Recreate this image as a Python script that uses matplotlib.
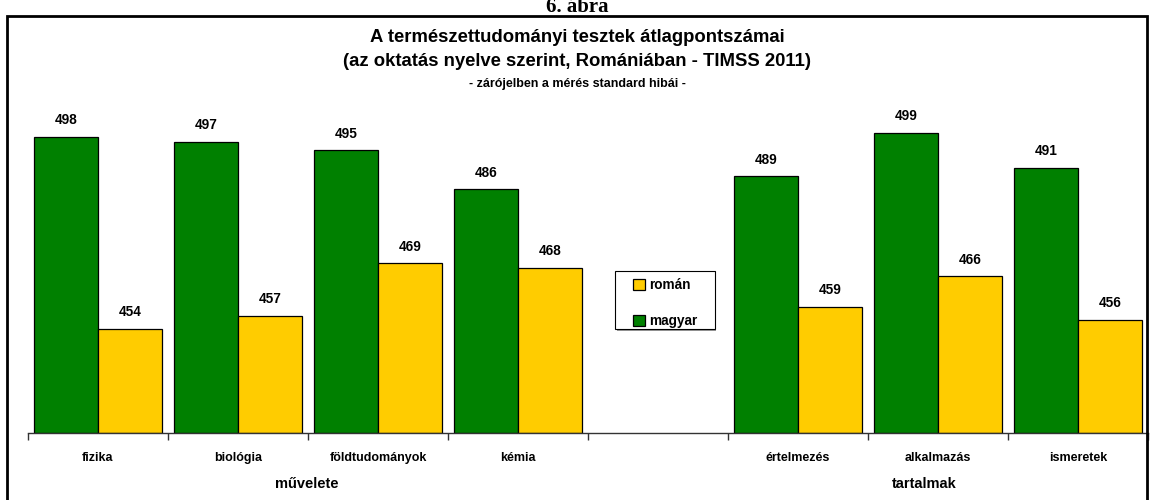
import matplotlib
matplotlib.use("Agg")
import matplotlib.pyplot as plt
from matplotlib.patches import Rectangle
import numpy as np

categories = ['fizika', 'biológia', 'földtudományok', 'kémia', '',
              'értelmezés', 'alkalmazás', 'ismeretek']
magyar = [498, 497, 495, 486, None, 489, 499, 491]
roman = [454, 457, 469, 468, None, 459, 466, 456]
groups = ['művelete', 'tartalmak']

GREEN = '#008000'
YELLOW = '#FFCC00'

plt.rcParams['font.family'] = ['Liberation Sans', 'DejaVu Sans']

W, H = 1153, 500
fig = plt.figure(figsize=(W / 100, H / 100), dpi=100)

def fx(px):
    return px / W

def fy(py):
    return 1 - py / H

ax = fig.add_axes([fx(28), fy(433), fx(1148) - fx(28), fy(41.5) - fy(433)])
ymin, ymax = 430, 520
ax.set_ylim(ymin, ymax)
ax.set_xlim(0, len(categories))

bw = 0.4536
for i, (m, r) in enumerate(zip(magyar, roman)):
    c = i + 0.5
    if m is not None:
        ax.bar(c - bw / 2, m - ymin, bottom=ymin, width=bw, color=GREEN,
               edgecolor='black', linewidth=0.9, label='magyar' if i == 0 else None)
        ax.annotate(str(m), (c - bw / 2, m), xytext=(0, 7), textcoords='offset points',
                    ha='center', va='bottom', fontsize=9.8, fontweight='bold')
    if r is not None:
        ax.bar(c + bw / 2, r - ymin, bottom=ymin, width=bw, color=YELLOW,
               edgecolor='black', linewidth=0.9, label='román' if i == 0 else None)
        ax.annotate(str(r), (c + bw / 2, r), xytext=(0, 7), textcoords='offset points',
                    ha='center', va='bottom', fontsize=9.8, fontweight='bold')

for s in ['top', 'right', 'left']:
    ax.spines[s].set_visible(False)
ax.spines['bottom'].set_color('#333333')
ax.spines['bottom'].set_linewidth(1.0)
ax.set_yticks([])
ax.set_xticks(np.arange(len(categories) + 1))
ax.set_xticklabels([])
ax.tick_params(axis='x', which='major', length=5, width=1, color='#333333', direction='out')
ax.set_xticks(np.arange(len(categories)) + 0.5, minor=True)
ax.set_xticklabels(categories, minor=True, fontsize=9, fontweight='bold')
ax.tick_params(axis='x', which='minor', length=0, pad=14)

# group labels
fig.text(fx(307), fy(484), groups[0], ha='center', va='center', fontsize=10.5, fontweight='bold')
fig.text(fx(924), fy(484), groups[1], ha='center', va='center', fontsize=10.5, fontweight='bold')

# legend (frame drawn separately)
handles, labels = ax.get_legend_handles_labels()
order = [labels.index('román'), labels.index('magyar')]
leg = ax.legend([handles[k] for k in order], [labels[k] for k in order],
                loc='center', bbox_to_anchor=(fx(665), fy(303)),
                bbox_transform=fig.transFigure,
                frameon=False,
                prop={'weight': 'bold', 'size': 9.8}, handlelength=0.85, handleheight=0.85,
                handletextpad=0.3, labelspacing=1.6, borderpad=0.2, borderaxespad=0)
fig.patches.append(Rectangle((fx(617), fy(331)), fx(716.5) - fx(617), fy(271) - fy(331),
                             transform=fig.transFigure, facecolor='#999999',
                             edgecolor='none', zorder=1))
fig.patches.append(Rectangle((fx(615), fy(329)), fx(715) - fx(615), fy(271) - fy(329),
                             transform=fig.transFigure, facecolor='white',
                             edgecolor='black', linewidth=0.8, zorder=2))
ax.set_zorder(3)
ax.patch.set_alpha(0)

# titles
fig.text(fx(577), fy(37), 'A természettudományi tesztek átlagpontszámai',
         ha='center', va='center', fontsize=13.3, fontweight='bold')
fig.text(fx(577), fy(61), '(az oktatás nyelve szerint, Romániában - TIMSS 2011)',
         ha='center', va='center', fontsize=13.3, fontweight='bold')
fig.text(fx(577), fy(84), '- zárójelben a mérés standard hibái -',
         ha='center', va='center', fontsize=9, fontweight='bold')

# cut-off figure caption at the very top
fig.text(fx(577), fy(12), '6. ábra', ha='center', va='baseline', fontsize=15,
         fontweight='bold', family=['Liberation Serif', 'DejaVu Serif'])

# outer frame
fig.patches.append(Rectangle((fx(7), -0.05), fx(1147) - fx(7), fy(16) + 0.05,
                             transform=fig.transFigure, fill=False,
                             edgecolor='black', linewidth=2.0, zorder=5))

fig.savefig('out.png', dpi=100)
